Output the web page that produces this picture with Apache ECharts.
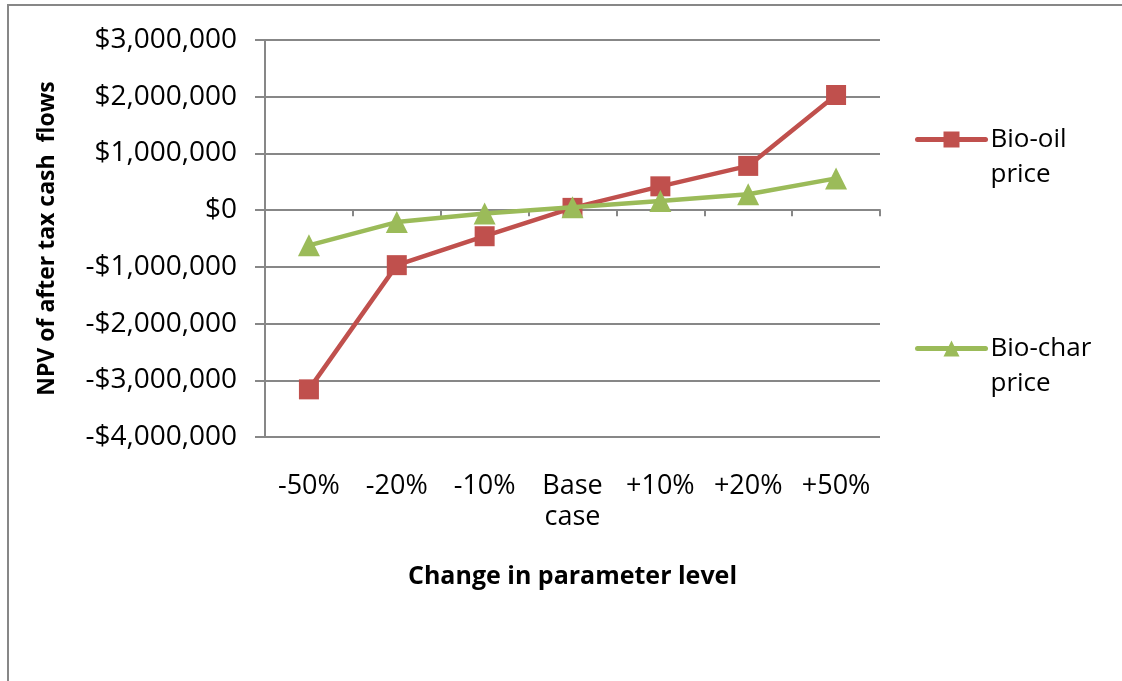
<!DOCTYPE html>
<html lang="en">

<head>
    <meta charset="UTF-8">
    <title>NPV sensitivity</title>
    <script src="https://cdn.jsdelivr.net/npm/echarts@6/dist/echarts.min.js"></script>
    <style>
        html, body { margin: 0; padding: 0; background: #fff; }
        #main { width: 1122px; height: 681px; }
    </style>
</head>

<body>
    <div id="main"></div>

    <script type="text/javascript">
        // data
        var categories = ['-50%', '-20%', '-10%', 'Base\ncase', '+10%', '+20%', '+50%'];
        var bioOil = [-3160000, -970000, -460000, 40000, 420000, 780000, 2030000];
        var bioChar = [-620000, -210000, -60000, 50000, 160000, 280000, 560000];
        var yTicks = { min: -4000000, max: 3000000, step: 1000000 };

        var font = '"Open Sans", "DejaVu Sans", sans-serif';
        var gray = '#878787';

        function money(v) {
            var s = Math.abs(v).toLocaleString('en-US');
            return (v < 0 ? '-' : '') + '$' + s;
        }

        var myChart = echarts.init(document.getElementById('main'));
        var legendText = { fontSize: 26, lineHeight: 35, color: '#000', fontFamily: font };
        var option = {
            animation: false,
            backgroundColor: '#fff',
            textStyle: { fontFamily: font },
            grid: { left: 265, right: 242, top: 40, bottom: 244 },
            graphic: [{
                type: 'rect',
                shape: { x: 8, y: 5, width: 1200, height: 800 },
                style: { fill: 'none', stroke: gray, lineWidth: 2 },
                silent: true
            }],
            legend: [{
                left: 915, top: 87, padding: 0,
                orient: 'vertical',
                data: ['Bio-oil price'],
                itemWidth: 68, itemHeight: 20,
                lineStyle: { width: 5, cap: 'round' },
                formatter: function () { return ' \nBio-oil\nprice'; },
                textStyle: legendText
            }, {
                left: 915, top: 296, padding: 0,
                orient: 'vertical',
                data: ['Bio-char price'],
                itemWidth: 68, itemHeight: 20,
                lineStyle: { width: 5, cap: 'round' },
                formatter: function () { return ' \nBio-char\nprice'; },
                textStyle: legendText
            }],
            xAxis: [{
                type: 'category',
                data: categories,
                boundaryGap: true,
                axisLine: { onZero: true, lineStyle: { color: gray, width: 2 } },
                axisTick: { show: true, length: 6, lineStyle: { color: gray, width: 2 } },
                axisLabel: { show: false }
            }, {
                type: 'category',
                data: categories,
                position: 'bottom',
                boundaryGap: true,
                axisLine: { show: false, onZero: false },
                axisTick: { show: false },
                axisLabel: { interval: 0, hideOverlap: false, margin: 34, fontSize: 27, lineHeight: 31, color: '#000', fontFamily: font },
                name: 'Change in parameter level',
                nameLocation: 'middle',
                nameGap: 127,
                nameTextStyle: { fontSize: 25, fontWeight: 'bold', color: '#000', fontFamily: font }
            }],
            yAxis: {
                type: 'value',
                min: yTicks.min,
                max: yTicks.max,
                interval: yTicks.step,
                axisLine: { show: true, lineStyle: { color: gray, width: 2 } },
                axisTick: { show: true, length: 10, lineStyle: { color: gray, width: 2 } },
                splitLine: { show: true, lineStyle: { color: gray, width: 2 } },
                axisLabel: { margin: 28, fontSize: 28, color: '#000', formatter: money, fontFamily: font },
                name: 'NPV of after tax cash  flows',
                nameLocation: 'middle',
                nameGap: 206,
                nameTextStyle: { fontSize: 23, fontWeight: 'bold', color: '#000', fontFamily: font }
            },
            series: [{
                name: 'Bio-oil price',
                type: 'line',
                data: bioOil,
                symbol: 'rect',
                symbolSize: 20,
                z: 3,
                itemStyle: { color: '#C0504D' },
                lineStyle: { color: '#C0504D', width: 4.5 }
            }, {
                name: 'Bio-char price',
                type: 'line',
                data: bioChar,
                symbol: 'triangle',
                symbolSize: 22,
                z: 4,
                itemStyle: { color: '#9BBB59' },
                lineStyle: { color: '#9BBB59', width: 4.5 }
            }]
        };
        myChart.setOption(option);
    </script>
</body>

</html>
